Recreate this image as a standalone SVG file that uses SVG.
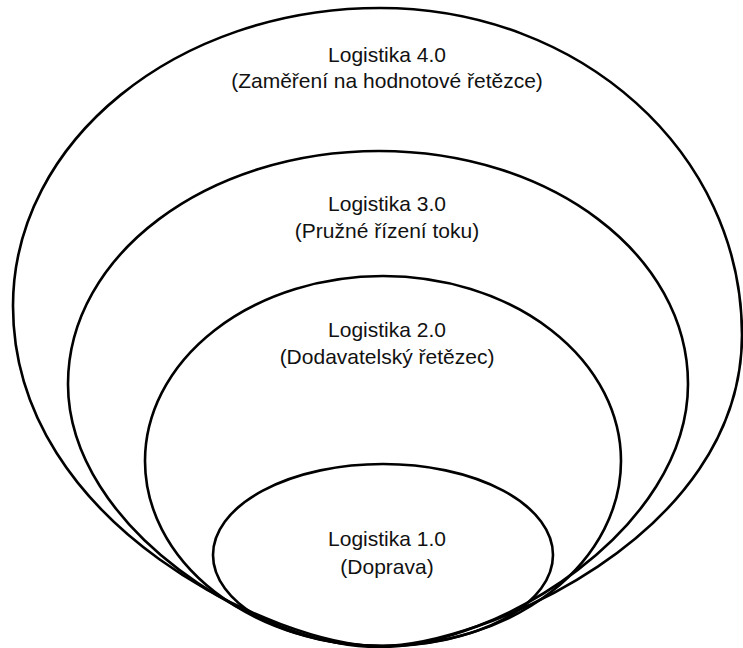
<svg xmlns="http://www.w3.org/2000/svg" width="743" height="648" viewBox="0 0 743 648">
<style>
.ring{fill:none;stroke:#000;stroke-width:2.6}
text{font-family:"Liberation Sans",Arial,sans-serif;font-size:21px;fill:#111;text-anchor:middle}
</style>
<rect width="743" height="648" fill="#fff"/>
<g id="node-4">
<path class="ring" d="M380,8 C177,8 13,141 13,306 C13,528 281,646 380,646 C478,646 742,538 742,335 C742,152 580,8 380,8 Z"/>
<text x="387" y="62">Logistika 4.0</text>
<text x="387" y="88">(Zaměření na hodnotové řetězce)</text>
</g>
<g id="node-3">
<path class="ring" d="M379,151 C207,151 68,255 68,384 C68,529 261,647 379,647 C497,647 688,529 688,384 C688,255 551,151 379,151 Z"/>
<text x="387" y="211">Logistika 3.0</text>
<text x="387" y="238">(Pružné řízení toku)</text>
</g>
<g id="node-2">
<ellipse class="ring" cx="383" cy="461" rx="238" ry="185"/>
<text x="387" y="337">Logistika 2.0</text>
<text x="387" y="364">(Dodavatelský řetězec)</text>
</g>
<g id="node-1">
<ellipse class="ring" cx="383" cy="555" rx="170" ry="91"/>
<text x="387" y="546">Logistika 1.0</text>
<text x="387" y="574">(Doprava)</text>
</g>
<g id="connectors"/>
</svg>
